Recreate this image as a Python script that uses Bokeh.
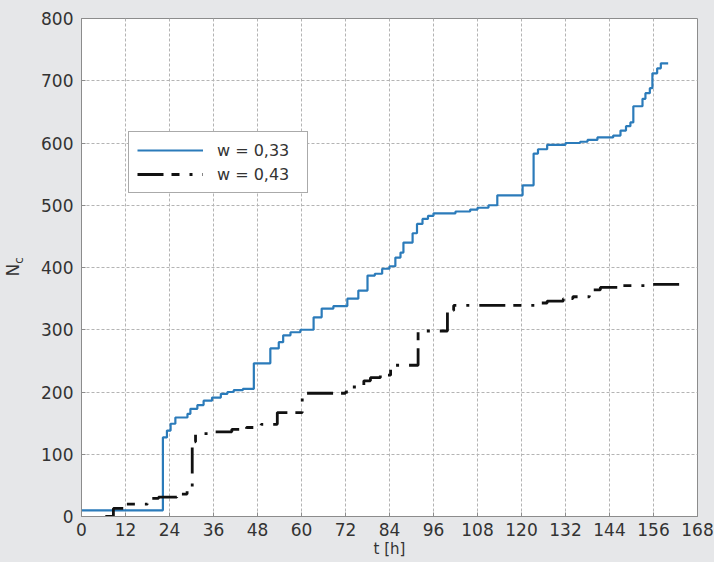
from bokeh.plotting import figure
from bokeh.models import Legend, LegendItem, FixedTicker, Range1d, Div
from bokeh.layouts import row
from bokeh.embed import file_html
from bokeh.resources import INLINE

# ---- data ----
t_033 = [0, 22.2, 23.3, 24.3, 25.6, 28.9, 29.7, 31.6, 33.3, 35.6, 38, 39.8, 41.5, 44,
         47, 51.5, 53.8, 55, 57, 59.7, 63.3, 65.5, 68.7, 72.5, 75.5, 78, 80, 82, 84,
         85.6, 87, 87.8, 90.3, 91.5, 93, 94.5, 96, 102, 106, 108, 111, 113.4, 120.3,
         123.3, 124.5, 127, 132, 136, 138, 140.7, 145, 147, 148.5, 149.7, 150.5, 153,
         153.8, 155, 155.7, 157, 158, 160]
n_033 = [10, 127, 138, 149, 159, 165, 173, 179, 186, 191, 197, 200, 203, 205,
         246, 270, 280, 291, 296, 300, 320, 334, 338, 350, 363, 387, 390, 398, 402,
         416, 424, 440, 455, 470, 478, 483, 487, 490, 493, 496, 500, 516, 532,
         583, 590, 597, 600, 602, 605, 609, 612, 620, 627, 633, 659, 671,
         680, 688, 712, 720, 728, 728]

t_043 = [6.5, 8.7, 11.5, 18, 21, 26, 28.8, 30.2, 31.1, 36.5, 41, 45, 49, 53.4, 60.2,
         61, 72, 74, 77, 78.8, 81.5, 84.3, 85.6, 91.8, 99.8, 101.5, 123.8, 127, 131.4,
         134, 138.5, 141.5, 147, 155, 164]
n_043 = [0, 13, 20, 29, 31, 36, 42, 120, 133, 136, 140, 143, 148, 167, 190,
         198, 200, 208, 218, 223, 227, 238, 243, 298, 331, 339, 343, 346, 350,
         353, 364, 368, 371, 373, 373]

x_ticks = list(range(0, 169, 12))
y_ticks = list(range(0, 801, 100))
labels = ["w = 0,33", "w = 0,43"]

FONT = "DejaVu Sans"
TXT = "#333333"
BG = "#e6e7e9"

p = figure(width=684, height=562, output_backend="svg", toolbar_location=None,
           x_range=Range1d(0, 168), y_range=Range1d(0, 800),
           frame_width=616, frame_height=498,
           min_border_left=51, min_border_right=17, min_border_top=18, min_border_bottom=46)
p.background_fill_color = "white"
p.border_fill_color = BG
p.outline_line_color = "#8c8c8c"
p.outline_line_width = 1

for ax in (p.xaxis[0], p.yaxis[0]):
    ax.major_label_text_font = FONT
    ax.major_label_text_font_size = "17px"
    ax.major_label_text_color = TXT
    ax.axis_line_color = "#8c8c8c"
    ax.major_tick_line_color = "#8c8c8c"
    ax.major_tick_in = 4
    ax.major_tick_out = 0
    ax.minor_tick_line_color = None
p.xaxis.major_label_standoff = 6
p.yaxis.major_label_standoff = 8

p.xaxis.ticker = FixedTicker(ticks=x_ticks)
p.yaxis.ticker = FixedTicker(ticks=y_ticks)
p.xaxis.axis_label = "t [h]"
p.xaxis.axis_label_text_font = FONT
p.xaxis.axis_label_text_font_size = "15px"
p.xaxis.axis_label_text_font_style = "normal"
p.xaxis.axis_label_text_color = TXT
p.xaxis.axis_label_standoff = 1

for g in (p.xgrid[0], p.ygrid[0]):
    g.grid_line_color = "#b4b4b4"
    g.grid_line_dash = "3 2"
    g.grid_line_width = 1

r1 = p.step(t_033, n_033, mode="after", line_color="#2b7bba", line_width=2.2)
r2 = p.step(t_043, n_043, mode="after", line_color="#111111", line_width=2.8,
            line_dash="26 8 8 10 3 10")

legend = Legend(items=[LegendItem(label=labels[0], renderers=[r1]),
                       LegendItem(label=labels[1], renderers=[r2])],
                location=(47, 323))
legend.label_text_font = FONT
legend.label_text_font_size = "16px"
legend.label_text_color = TXT
legend.border_line_color = "#555555"
legend.border_line_width = 1
legend.background_fill_color = "white"
legend.background_fill_alpha = 1
legend.padding = 8
legend.spacing = 4
legend.glyph_width = 66
legend.glyph_height = 20
legend.label_height = 20
legend.label_width = 82
legend.label_standoff = 14
legend.margin = 0
p.add_layout(legend, "center")

# y-axis title: N with subscript c, as real rotated text in a side Div
ylab = Div(
    text=('<div style="width:31px;height:562px;display:flex;align-items:center;'
          'justify-content:center;background-color:#e6e7e9;">'
          '<span style="display:inline-block;position:relative;left:-1px;top:-14px;'
          'transform:rotate(-90deg);white-space:nowrap;font-family:\'DejaVu Sans\';'
          'font-size:17px;color:#333333;">N<sub style="font-size:12px;">c</sub></span></div>'),
    width=30, height=562, styles={"background-color": BG, "margin": "0", "padding": "0"})

layout = row(ylab, p, spacing=0, styles={"background-color": BG})
open("out.html", "w").write(file_html(layout, INLINE))
